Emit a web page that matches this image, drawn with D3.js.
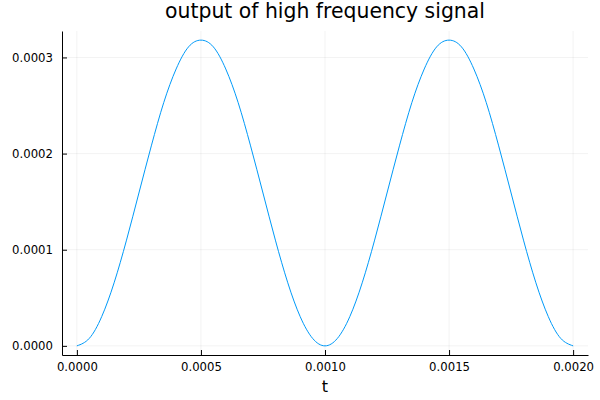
<!DOCTYPE html>
<html>
<head>
<meta charset="utf-8">
<script src="https://cdn.jsdelivr.net/npm/d3@7"></script>
<style>
  body { margin: 0; background: #fff; }
  text { font-family: "DejaVu Sans", sans-serif; fill: #000; }
</style>
</head>
<body>
<svg width="600" height="400"></svg>
<script>
// samples, every 0.00005 s
const tValues = d3.range(41).map(i => i * 0.00005);
const yValues = [
  0, 0.0000078, 0.0000304, 0.0000656, 0.000110, 0.000159, 0.000208, 0.000253, 0.000288, 0.000311,
  0.000318, 0.000311, 0.000288, 0.000253, 0.000208, 0.000159, 0.000110, 0.0000656, 0.0000304, 0.0000078,
  0, 0.0000078, 0.0000304, 0.0000656, 0.000110, 0.000159, 0.000208, 0.000253, 0.000288, 0.000311,
  0.000318, 0.000311, 0.000288, 0.000253, 0.000208, 0.000159, 0.000110, 0.0000656, 0.0000304, 0.0000078,
  0
];
const xTicks = [0, 0.0005, 0.0010, 0.0015, 0.0020];
const yTicks = [0, 0.0001, 0.0002, 0.0003];

const svg = d3.select("svg");
const plotLeft = 62, plotRight = 588, plotTop = 31, plotBottom = 355;

const x = d3.scaleLinear().domain([-0.00006, 0.00206]).range([plotLeft, plotRight]);
const y = d3.scaleLinear().domain([-0.0000095, 0.0003275]).range([plotBottom, plotTop]);

// grid
svg.append("g").selectAll("line").data(xTicks).join("line")
  .attr("x1", d => x(d)).attr("x2", d => x(d))
  .attr("y1", plotTop).attr("y2", plotBottom)
  .attr("stroke", "#000").attr("stroke-opacity", 0.1).attr("stroke-width", 0.5);
svg.append("g").selectAll("line").data(yTicks).join("line")
  .attr("x1", plotLeft).attr("x2", plotRight)
  .attr("y1", d => y(d)).attr("y2", d => y(d))
  .attr("stroke", "#000").attr("stroke-opacity", 0.1).attr("stroke-width", 0.5);

// axes
const xAxis = svg.append("g")
  .attr("transform", `translate(0,${plotBottom})`)
  .call(d3.axisBottom(x).tickValues(xTicks).tickFormat(d3.format(".4f")).tickSizeInner(-5).tickSizeOuter(0).tickPadding(8));
const yAxis = svg.append("g")
  .attr("transform", `translate(${plotLeft},0)`)
  .call(d3.axisLeft(y).tickValues(yTicks).tickFormat(d3.format(".4f")).tickSizeInner(-5).tickSizeOuter(0).tickPadding(9));
[xAxis, yAxis].forEach(g => {
  g.selectAll("text").style("font-size", "11.7px").style("font-family", "DejaVu Sans, sans-serif");
  g.selectAll("line").attr("stroke", "#000");
  g.select(".domain").attr("stroke", "#000");
});

// curve
const data = tValues.map((t, i) => ({ t, v: yValues[i] }));
svg.append("path")
  .datum(data)
  .attr("fill", "none")
  .attr("stroke", "#009af9")
  .attr("stroke-width", 1)
  .attr("d", d3.line().x(d => x(d.t)).y(d => y(d.v)).curve(d3.curveNatural));

// labels
svg.append("text")
  .attr("x", (plotLeft + plotRight) / 2).attr("y", 18)
  .attr("text-anchor", "middle")
  .style("font-size", "20.4px")
  .text("output of high frequency signal");
svg.append("text")
  .attr("x", (plotLeft + plotRight) / 2).attr("y", 392)
  .attr("text-anchor", "middle")
  .style("font-size", "16px")
  .text("t");
</script>
</body>
</html>
